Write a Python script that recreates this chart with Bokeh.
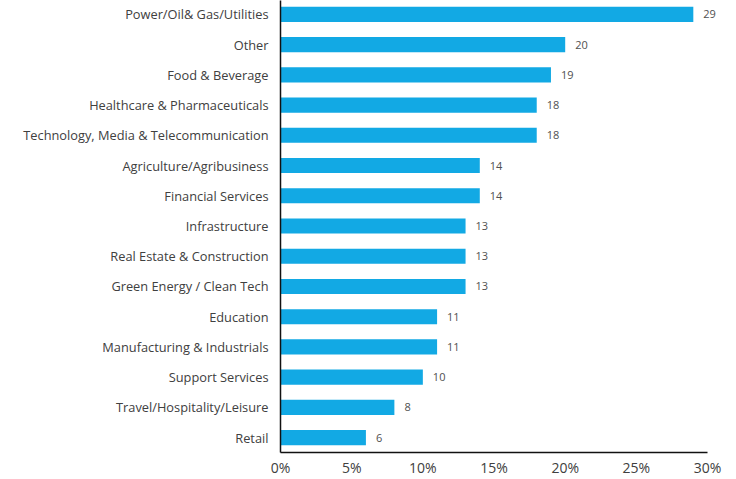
from bokeh.plotting import figure
from bokeh.models import ColumnDataSource, FixedTicker, PrintfTickFormatter, Range1d, LabelSet
from bokeh.core.properties import value
from bokeh.embed import file_html
from bokeh.resources import INLINE

# Data (top to bottom as in the chart)
categories = [
    "Power/Oil& Gas/Utilities",
    "Other",
    "Food & Beverage",
    "Healthcare & Pharmaceuticals",
    "Technology, Media & Telecommunication",
    "Agriculture/Agribusiness",
    "Financial Services",
    "Infrastructure",
    "Real Estate & Construction",
    "Green Energy / Clean Tech",
    "Education",
    "Manufacturing & Industrials",
    "Support Services",
    "Travel/Hospitality/Leisure",
    "Retail",
]
values = [29, 20, 19, 18, 18, 14, 14, 13, 13, 13, 11, 11, 10, 8, 6]
x_ticks = [0, 5, 10, 15, 20, 25, 30]

n = len(categories)
ypos = [n - 1 - i for i in range(n)]  # top category gets the highest position

src = ColumnDataSource(dict(
    y=ypos,
    v=values,
    label=[str(v) for v in values],
))

FONT = "Open Sans"

p = figure(
    width=736, height=479,
    output_backend="svg", toolbar_location=None,
    x_range=Range1d(0, 31.05), y_range=Range1d(-0.493, n - 1 + 0.46),
    min_border_left=280, min_border_right=14, min_border_top=0, min_border_bottom=24,
)
p.outline_line_color = None
p.grid.visible = False
p.background_fill_color = "white"
p.border_fill_color = "white"

p.hbar(y="y", right="v", left=0, height=0.5, source=src,
       fill_color="#12a9e4", line_color=None)

labels = LabelSet(x="v", y="y", text="label", source=src, x_offset=10,
                  text_align="left", text_baseline="middle",
                  text_font=value(FONT), text_font_size=value("11px"),
                  text_color=value("#505050"))
p.add_layout(labels)

# Y axis
p.yaxis.ticker = FixedTicker(ticks=ypos)
p.yaxis.major_label_overrides = {y: c for y, c in zip(ypos, categories)}
p.yaxis.major_tick_line_color = None
p.yaxis.minor_tick_line_color = None
p.yaxis.axis_line_color = "#111111"
p.yaxis.axis_line_width = 1.5
p.yaxis.major_label_text_font = FONT
p.yaxis.major_label_text_font_size = "12.8px"
p.yaxis.major_label_text_color = "#404040"
p.yaxis.major_label_standoff = 6

# X axis
p.xaxis.ticker = FixedTicker(ticks=x_ticks)
p.xaxis.bounds = (0, 30)
p.xaxis.formatter = PrintfTickFormatter(format="%d%%")
p.xaxis.major_tick_line_color = None
p.xaxis.minor_tick_line_color = None
p.xaxis.axis_line_color = "#111111"
p.xaxis.axis_line_width = 1.5
p.xaxis.major_label_text_font = FONT
p.xaxis.major_label_text_font_size = "14px"
p.xaxis.major_label_text_color = "#404040"
p.xaxis.major_label_standoff = -1

open("out.html", "w").write(file_html(p, INLINE))
